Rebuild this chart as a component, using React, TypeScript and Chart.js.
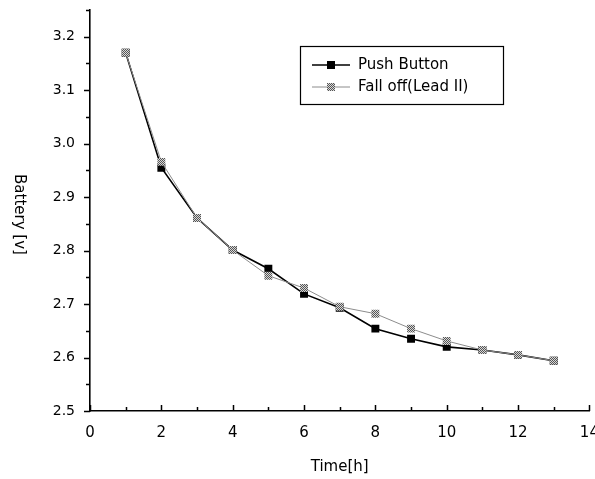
import React, { useEffect, useRef } from "react";
import { Chart, registerables } from "chart.js";

Chart.register(...registerables);

// ---- Data ----
const timeHours = [1, 2, 3, 4, 5, 6, 7, 8, 9, 10, 11, 12, 13];
const pushButton = [3.17, 2.955, 2.861, 2.801, 2.766, 2.719, 2.693, 2.654, 2.635, 2.62, 2.614, 2.605, 2.594];
const fallOff = [3.17, 2.966, 2.861, 2.801, 2.753, 2.73, 2.695, 2.682, 2.654, 2.631, 2.614, 2.605, 2.594];
const seriesLabels = ["Push Button", "Fall off(Lead II)"];
const xMajorTicks = [0, 2, 4, 6, 8, 10, 12, 14];
const xMinorTicks = [1, 3, 5, 7, 9, 11, 13];
const yMajorTicks = [2.5, 2.6, 2.7, 2.8, 2.9, 3.0, 3.1, 3.2];
const yMinorTicks = [2.55, 2.65, 2.75, 2.85, 2.95, 3.05, 3.15, 3.25];
const xTitle = "Time[h]";
const yTitle = "Battery [v]";
const FONT = "'DejaVu Sans', sans-serif";

function makeChecker(): CanvasPattern | string {
  const c = document.createElement("canvas");
  c.width = 2;
  c.height = 2;
  const g = c.getContext("2d");
  if (!g) return "#999";
  g.fillStyle = "#d8d8d8";
  g.fillRect(0, 0, 2, 2);
  g.fillStyle = "#555";
  g.fillRect(0, 0, 1, 1);
  g.fillRect(1, 1, 1, 1);
  const p = g.createPattern(c, "repeat");
  return p || "#999";
}

export default function App() {
  const ref = useRef<HTMLCanvasElement | null>(null);

  useEffect(() => {
    if (!ref.current) return;
    const checker = makeChecker();

    const decorPlugin = {
      id: "decor",
      afterDraw(chart: any) {
        const { ctx, chartArea, scales } = chart;
        const x = scales.x;
        const y = scales.y;
        ctx.save();
        // ticks
        ctx.strokeStyle = "#000";
        ctx.lineWidth = 1.5;
        ctx.beginPath();
        xMajorTicks.forEach((v) => {
          const px = Math.round(x.getPixelForValue(v)) + 0.5;
          ctx.moveTo(px, chartArea.bottom);
          ctx.lineTo(px, chartArea.bottom - 6);
        });
        xMinorTicks.forEach((v) => {
          const px = Math.round(x.getPixelForValue(v)) + 0.5;
          ctx.moveTo(px, chartArea.bottom);
          ctx.lineTo(px, chartArea.bottom - 4);
        });
        yMajorTicks.forEach((v) => {
          const py = Math.round(y.getPixelForValue(v)) + 0.5;
          ctx.moveTo(chartArea.left, py);
          ctx.lineTo(chartArea.left - 6, py);
        });
        yMinorTicks.forEach((v) => {
          const py = Math.round(y.getPixelForValue(v)) + 0.5;
          ctx.moveTo(chartArea.left, py);
          ctx.lineTo(chartArea.left - 4, py);
        });
        ctx.stroke();

        // y title, rotated clockwise
        ctx.save();
        ctx.translate(19, (chartArea.top + chartArea.bottom) / 2 + 4);
        ctx.rotate(Math.PI / 2);
        ctx.fillStyle = "#000";
        ctx.font = `15px ${FONT}`;
        ctx.textAlign = "center";
        ctx.textBaseline = "middle";
        ctx.fillText(yTitle, 0, 0);
        ctx.restore();

        // legend box
        const bx = 300, by = 46, bw = 203, bh = 58;
        ctx.fillStyle = "#fff";
        ctx.fillRect(bx, by, bw, bh);
        ctx.strokeStyle = "#000";
        ctx.lineWidth = 1.2;
        ctx.strokeRect(bx + 0.5, by + 0.5, bw, bh);
        const rows = [by + 19, by + 41];
        chart.data.datasets.forEach((ds: any, i: number) => {
          const ry = rows[i];
          ctx.strokeStyle = ds.borderColor;
          ctx.lineWidth = ds.borderWidth;
          ctx.beginPath();
          ctx.moveTo(bx + 12, ry);
          ctx.lineTo(bx + 50, ry);
          ctx.stroke();
          ctx.fillStyle = ds.pointBackgroundColor;
          ctx.fillRect(bx + 27, ry - 4, 8, 8);
          ctx.fillStyle = "#000";
          ctx.font = `15px ${FONT}`;
          ctx.textAlign = "left";
          ctx.textBaseline = "middle";
          ctx.fillText(ds.label, bx + 58, ry);
        });
        ctx.restore();
      },
    };

    const chart = new Chart(ref.current, {
      type: "line",
      data: {
        labels: timeHours,
        datasets: [
          {
            label: seriesLabels[0],
            data: timeHours.map((t, i) => ({ x: t, y: pushButton[i] })),
            borderColor: "#000",
            borderWidth: 1.6,
            pointStyle: "rect",
            pointRadius: 5.6,
            pointBackgroundColor: "#000",
            pointBorderWidth: 0,
            tension: 0,
            order: 1,
          },
          {
            label: seriesLabels[1],
            data: timeHours.map((t, i) => ({ x: t, y: fallOff[i] })),
            borderColor: "#8c8c8c",
            borderWidth: 1,
            pointStyle: "rect",
            pointRadius: 5.6,
            pointBackgroundColor: checker as any,
            pointBorderWidth: 0,
            tension: 0,
            order: 0,
          },
        ],
      },
      options: {
        animation: false,
        responsive: true,
        maintainAspectRatio: false,
        layout: { padding: { top: 10, right: 5, left: 0, bottom: 0 } },
        plugins: {
          legend: { display: false },
          tooltip: { enabled: false },
        },
        scales: {
          x: {
            type: "linear",
            min: 0,
            max: 14,
            afterBuildTicks: (scale: any) => {
              scale.ticks = xMajorTicks.map((v) => ({ value: v }));
            },
            afterFit: (scale: any) => {
              scale.height = 68;
              scale.paddingLeft = 0;
              scale.paddingRight = 0;
            },
            ticks: {
              padding: 13,
              color: "#000",
              font: { family: FONT, size: 15 },
              maxRotation: 0,
              callback: (v: any) => String(v),
            },
            grid: { display: true, drawOnChartArea: false, drawTicks: false, color: "rgba(0,0,0,0)" },
            border: { display: true, color: "#000", width: 1.6 },
            title: {
              display: true,
              text: xTitle,
              color: "#000",
              font: { family: FONT, size: 15 },
              padding: { top: 0, bottom: 3 },
            },
          },
          y: {
            type: "linear",
            min: 2.5,
            max: 3.25,
            afterBuildTicks: (scale: any) => {
              scale.ticks = yMajorTicks.map((v) => ({ value: v }));
            },
            afterFit: (scale: any) => {
              scale.width = 90;
              scale.paddingTop = 0;
              scale.paddingBottom = 0;
            },
            ticks: {
              padding: 15,
              color: "#000",
              font: { family: FONT, size: 14 },
              callback: (v: any) => Number(v).toFixed(1),
            },
            grid: { display: true, drawOnChartArea: false, drawTicks: false, color: "rgba(0,0,0,0)" },
            border: { display: true, color: "#000", width: 1.6 },
            title: { display: false },
          },
        },
      },
      plugins: [decorPlugin],
    });

    return () => chart.destroy();
  }, []);

  return (
    <div style={{ position: "fixed", left: 0, top: 0, width: 595, height: 479, background: "#fff" }}>
      <canvas ref={ref} />
    </div>
  );
}
